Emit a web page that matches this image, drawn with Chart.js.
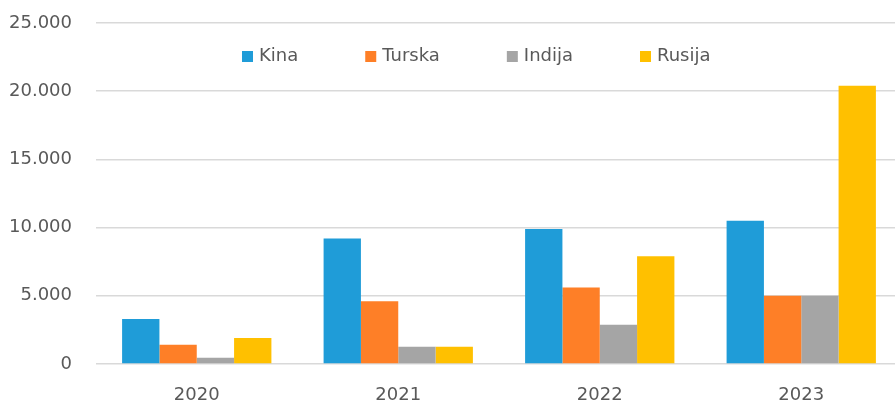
<!DOCTYPE html>
<html>
<head>
<meta charset="utf-8">
<script src="https://cdn.jsdelivr.net/npm/chart.js@4"></script>
<style>
  html, body { margin: 0; padding: 0; background: #fff; overflow: hidden; }
  .chart-box { width: 902px; height: 400px; }
</style>
</head>
<body>
<div class="chart-box"><canvas id="chart"></canvas></div>
<script>
const years = ['2020', '2021', '2022', '2023'];
const kina = [3300, 9200, 9900, 10500];
const turska = [1420, 4600, 5600, 5000];
const indija = [450, 1270, 2870, 5000];
const rusija = [1900, 1270, 7900, 20400];
const yTicks = [0, 5000, 10000, 15000, 20000, 25000];

const fontFamily = '"DejaVu Sans", Verdana, sans-serif';
const textColor = '#595959';

// legend sits inside the plot, Excel style
const insideLegend = {
    id: 'insideLegend',
    afterDraw(chart) {
        const ctx = chart.ctx;
        ctx.save();
        ctx.font = '18px ' + fontFamily;
        ctx.textBaseline = 'middle';
        let x = 242;
        const y = 56;
        chart.data.datasets.forEach(ds => {
            ctx.fillStyle = ds.backgroundColor;
            ctx.fillRect(x, y - 5, 11, 11);
            ctx.fillStyle = textColor;
            ctx.fillText(ds.label, x + 17, y);
            x += 17 + ctx.measureText(ds.label).width + 67;
        });
        ctx.restore();
    }
};

const fmt = v => v === 0 ? '0' : v.toString().replace(/\B(?=(\d{3})+(?!\d))/g, '.');

new Chart(document.getElementById('chart'), {
    type: 'bar',
    data: {
        labels: years,
        datasets: [
            {label: 'Kina', data: kina, backgroundColor: '#1f9cd8'},
            {label: 'Turska', data: turska, backgroundColor: '#fe7f27'},
            {label: 'Indija', data: indija, backgroundColor: '#a5a5a5'},
            {label: 'Rusija', data: rusija, backgroundColor: '#ffc000'}
        ]
    },
    options: {
        responsive: true,
        maintainAspectRatio: false,
        animation: false,
        layout: {padding: {top: 23, left: 0, right: 0, bottom: 0}},
        datasets: {bar: {categoryPercentage: 0.741, barPercentage: 1}},
        plugins: {
            legend: {display: false},
            tooltip: {enabled: false}
        },
        scales: {
            x: {
                grid: {display: false, drawTicks: false},
                border: {display: false},
                ticks: {color: textColor, font: {family: fontFamily, size: 18}, padding: 21},
                afterFit: s => { s.height = 36; }
            },
            y: {
                min: 0,
                max: 25000,
                afterBuildTicks: s => { s.ticks = yTicks.map(v => ({value: v})); },
                grid: {color: '#d9d9d9', lineWidth: 1.5, drawTicks: false},
                border: {display: false},
                ticks: {color: textColor, font: {family: fontFamily, size: 18}, padding: 24, callback: v => fmt(v)},
                afterFit: s => { s.width = 96; s.paddingTop = 0; s.paddingBottom = 0; }
            }
        }
    },
    plugins: [insideLegend]
});
</script>
</body>
</html>
